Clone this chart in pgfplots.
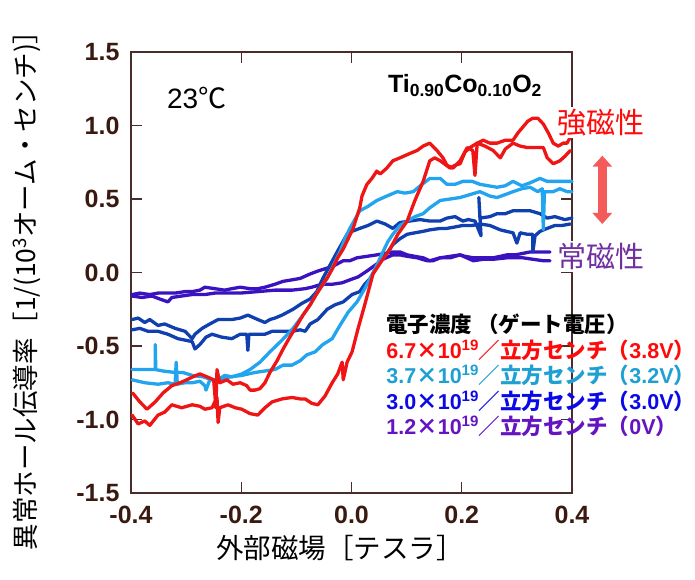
\documentclass[border=0pt]{standalone}
\usepackage{pgfplots}
\pgfplotsset{compat=1.18}
\usepackage{fontspec}
\setmainfont{Liberation Sans}
\newfontfamily\jp{Noto Sans CJK JP}
\usetikzlibrary{arrows.meta}
\definecolor{axcol}{HTML}{4A2C2A}
\definecolor{tkcol}{HTML}{3A1A10}
\definecolor{cred}{HTML}{F01515}
\definecolor{clb}{HTML}{22A5EE}
\definecolor{cdb}{HTML}{1040B0}
\definecolor{cpu}{HTML}{3A12C0}
\definecolor{tred}{HTML}{FF0A0A}
\definecolor{tlb}{HTML}{1EA0D2}
\definecolor{tdb}{HTML}{0A0AE6}
\definecolor{tpu}{HTML}{6414C0}
\definecolor{lpu}{HTML}{7030A0}
\definecolor{arr}{HTML}{F55A5A}
\begin{document}
\begin{tikzpicture}
\path[use as bounding box] (0,0) rectangle (695pt,579pt);
\begin{axis}[
  at={(131pt,86pt)}, anchor=south west,
  width=441pt, height=441pt, scale only axis,
  xmin=-0.4, xmax=0.4, ymin=-1.5, ymax=1.5,
  xtick={-0.4,-0.2,0,0.2,0.4}, xticklabels={-0.4,-0.2,0.0,0.2,0.4},
  ytick={-1.5,-1,-0.5,0,0.5,1,1.5}, yticklabels={-1.5,-1.0,-0.5,0.0,0.5,1.0,1.5},
  tick align=inside, major tick length=11pt,
  axis line style={axcol, line width=1.2pt},
  every tick/.style={axcol, line width=1.2pt},
  ticklabel style={font=\bfseries\fontsize{25}{25}\selectfont, text=tkcol},
  xticklabel style={yshift=-10pt},
  yticklabel style={xshift=-8pt},
  clip=false,
  xlabel={\jp 外部磁場［テスラ］},
  ylabel={\jp 異常ホール伝導率［1/(10\textsuperscript{3}オーム・センチ)］},
  xlabel style={font=\fontsize{27.5}{27.5}\selectfont, at={(axis description cs:0.474,-0.125)}, anchor=center},
  ylabel style={font=\fontsize{26.5}{26.5}\selectfont, at={(axis description cs:-0.236,0.474)}, anchor=center, rotate=0},
  every axis plot/.append style={line width=3.3pt, line join=round, line cap=round},
]
% purple upper (decreasing field)
\addplot[cpu] coordinates {
(0.360,0.14)(0.342,0.14)(0.324,0.14)(0.311,0.13)(0.297,0.12)(0.282,0.12)(0.270,0.11)(0.257,0.10)(0.239,0.10)(0.221,0.10)(0.206,0.11)(0.197,0.12)(0.179,0.11)(0.161,0.10)(0.142,0.08)(0.130,0.10)(0.115,0.11)(0.101,0.12)(0.088,0.14)(0.075,0.14)(0.061,0.13)(0.046,0.12)(0.028,0.11)(0.010,0.10)(-0.003,0.08)(-0.015,0.08)(-0.030,0.05)(-0.044,0.03)(-0.061,0.01)(-0.075,-0.01)(-0.093,-0.04)(-0.108,-0.05)(-0.124,-0.06)(-0.139,-0.08)(-0.157,-0.10)(-0.170,-0.11)(-0.184,-0.11)(-0.202,-0.10)(-0.217,-0.11)(-0.230,-0.12)(-0.248,-0.11)(-0.266,-0.10)(-0.275,-0.12)(-0.289,-0.13)(-0.302,-0.13)(-0.320,-0.14)(-0.333,-0.14)(-0.351,-0.14)(-0.366,-0.15)(-0.384,-0.14)(-0.398,-0.15)
};
% purple lower (increasing field)
\addplot[cpu] coordinates {
(-0.398,-0.16)(-0.380,-0.17)(-0.362,-0.16)(-0.348,-0.18)(-0.333,-0.20)(-0.326,-0.17)(-0.308,-0.16)(-0.289,-0.15)(-0.266,-0.15)(-0.248,-0.14)(-0.230,-0.14)(-0.202,-0.14)(-0.170,-0.13)(-0.139,-0.12)(-0.108,-0.12)(-0.084,-0.11)(-0.072,-0.10)(-0.054,-0.08)(-0.035,-0.08)(-0.017,-0.07)(-0.003,-0.05)(0.012,-0.03)(0.028,0.01)(0.043,0.05)(0.057,0.09)(0.075,0.12)(0.088,0.12)(0.101,0.11)(0.119,0.10)(0.137,0.08)(0.148,0.08)(0.161,0.10)(0.179,0.10)(0.197,0.12)(0.221,0.08)(0.239,0.09)(0.257,0.09)(0.282,0.10)(0.297,0.10)(0.311,0.10)(0.329,0.09)(0.348,0.08)(0.360,0.08)
};
% dark blue upper
\addplot[cdb] coordinates {
(0.400,0.37)(0.387,0.36)(0.369,0.38)(0.355,0.37)(0.342,0.40)(0.324,0.42)(0.306,0.42)(0.293,0.42)(0.279,0.40)(0.264,0.40)(0.251,0.38)(0.233,0.37)(0.231,0.51)(0.235,0.25)(0.224,0.35)(0.212,0.36)(0.202,0.35)(0.188,0.38)(0.173,0.37)(0.161,0.35)(0.142,0.35)(0.124,0.36)(0.106,0.35)(0.088,0.34)(0.075,0.30)(0.061,0.33)(0.046,0.35)(0.030,0.32)(0.015,0.30)(0.001,0.28)(-0.008,0.26)(-0.017,0.20)(-0.026,0.14)(-0.039,0.05)(-0.052,-0.04)(-0.063,-0.13)(-0.075,-0.18)(-0.090,-0.21)(-0.106,-0.25)(-0.126,-0.29)(-0.139,-0.31)(-0.148,-0.32)(-0.157,-0.34)(-0.170,-0.32)(-0.188,-0.29)(-0.202,-0.31)(-0.217,-0.32)(-0.230,-0.32)(-0.242,-0.32)(-0.257,-0.35)(-0.271,-0.38)(-0.284,-0.42)(-0.289,-0.45)(-0.302,-0.40)(-0.320,-0.38)(-0.339,-0.35)(-0.351,-0.36)(-0.366,-0.32)(-0.375,-0.34)(-0.387,-0.31)(-0.398,-0.32)
};
% dark blue lower
\addplot[cdb] coordinates {
(-0.398,-0.39)(-0.384,-0.38)(-0.369,-0.40)(-0.351,-0.40)(-0.333,-0.42)(-0.315,-0.45)(-0.302,-0.46)(-0.289,-0.47)(-0.284,-0.52)(-0.275,-0.49)(-0.264,-0.44)(-0.253,-0.42)(-0.235,-0.44)(-0.217,-0.45)(-0.202,-0.42)(-0.190,-0.42)(-0.188,-0.53)(-0.186,-0.42)(-0.170,-0.42)(-0.157,-0.42)(-0.144,-0.40)(-0.126,-0.40)(-0.108,-0.40)(-0.093,-0.39)(-0.084,-0.40)(-0.075,-0.35)(-0.061,-0.32)(-0.044,-0.25)(-0.030,-0.22)(-0.015,-0.20)(0.001,-0.15)(0.015,-0.13)(0.024,-0.08)(0.034,-0.04)(0.046,0.04)(0.057,0.10)(0.066,0.14)(0.075,0.19)(0.088,0.23)(0.101,0.26)(0.115,0.27)(0.130,0.28)(0.142,0.29)(0.161,0.30)(0.173,0.30)(0.188,0.31)(0.202,0.32)(0.219,0.32)(0.233,0.33)(0.251,0.32)(0.270,0.29)(0.281,0.28)(0.293,0.27)(0.300,0.20)(0.306,0.27)(0.319,0.26)(0.329,0.26)(0.329,0.14)(0.333,0.25)(0.342,0.28)(0.355,0.30)(0.369,0.32)(0.382,0.32)(0.397,0.33)
};
% light blue upper
\addplot[clb] coordinates {
(0.400,0.62)(0.378,0.62)(0.355,0.62)(0.342,0.64)(0.324,0.61)(0.309,0.59)(0.293,0.62)(0.279,0.59)(0.264,0.58)(0.248,0.59)(0.233,0.60)(0.219,0.62)(0.202,0.62)(0.188,0.60)(0.173,0.60)(0.161,0.64)(0.142,0.64)(0.128,0.60)(0.112,0.55)(0.097,0.54)(0.083,0.55)(0.064,0.52)(0.046,0.49)(0.030,0.45)(0.015,0.42)(0.006,0.36)(-0.003,0.30)(-0.012,0.23)(-0.021,0.14)(-0.034,0.04)(-0.044,-0.04)(-0.061,-0.13)(-0.075,-0.22)(-0.090,-0.30)(-0.106,-0.38)(-0.126,-0.46)(-0.148,-0.54)(-0.166,-0.61)(-0.184,-0.66)(-0.199,-0.69)(-0.217,-0.71)(-0.230,-0.70)(-0.242,-0.73)(-0.253,-0.73)(-0.269,-0.71)(-0.289,-0.70)(-0.306,-0.68)(-0.320,-0.68)(-0.342,-0.67)(-0.356,-0.66)(-0.356,-0.49)(-0.355,-0.66)(-0.375,-0.66)(-0.398,-0.66)
};
% light blue lower
\addplot[clb] coordinates {
(-0.398,-0.73)(-0.375,-0.75)(-0.351,-0.76)(-0.333,-0.75)(-0.320,-0.76)(-0.318,-0.61)(-0.316,-0.76)(-0.302,-0.75)(-0.289,-0.75)(-0.275,-0.74)(-0.266,-0.77)(-0.264,-0.80)(-0.257,-0.73)(-0.242,-0.73)(-0.220,-0.71)(-0.199,-0.70)(-0.175,-0.68)(-0.157,-0.67)(-0.139,-0.66)(-0.124,-0.63)(-0.108,-0.63)(-0.093,-0.60)(-0.081,-0.56)(-0.066,-0.54)(-0.052,-0.49)(-0.035,-0.45)(-0.021,-0.36)(-0.006,-0.27)(0.010,-0.20)(0.021,-0.13)(0.034,-0.04)(0.046,0.05)(0.057,0.14)(0.066,0.21)(0.075,0.26)(0.088,0.32)(0.101,0.35)(0.115,0.38)(0.130,0.40)(0.142,0.44)(0.161,0.49)(0.179,0.50)(0.197,0.51)(0.215,0.53)(0.233,0.55)(0.251,0.52)(0.264,0.51)(0.279,0.53)(0.293,0.55)(0.309,0.57)(0.324,0.58)(0.338,0.55)(0.346,0.57)(0.348,0.29)(0.350,0.55)(0.366,0.55)(0.378,0.57)(0.391,0.55)(0.400,0.55)
};
% red lower (increasing field)
\addplot[cred] coordinates {
(-0.398,-0.97)(-0.387,-1.03)(-0.375,-1.01)(-0.366,-1.04)(-0.351,-0.97)(-0.339,-0.95)(-0.326,-0.90)(-0.308,-0.92)(-0.289,-0.90)(-0.275,-0.91)(-0.266,-0.93)(-0.253,-0.92)(-0.244,-0.85)(-0.242,-1.02)(-0.239,-0.92)(-0.224,-0.90)(-0.211,-0.92)(-0.199,-0.93)(-0.184,-0.96)(-0.170,-0.97)(-0.157,-0.92)(-0.144,-0.88)(-0.126,-0.86)(-0.108,-0.85)(-0.093,-0.86)(-0.084,-0.86)(-0.072,-0.89)(-0.061,-0.90)(-0.048,-0.84)(-0.035,-0.75)(-0.025,-0.69)(-0.017,-0.61)(-0.015,-0.73)(-0.008,-0.61)(0.001,-0.54)(0.012,-0.38)(0.024,-0.22)(0.039,-0.01)(0.055,0.08)(0.070,0.16)(0.084,0.26)(0.101,0.35)(0.115,0.49)(0.130,0.62)(0.142,0.76)(0.151,0.78)(0.161,0.76)(0.179,0.71)(0.188,0.73)(0.197,0.74)(0.206,0.82)(0.215,0.85)(0.228,0.88)(0.239,0.90)(0.251,0.88)(0.264,0.88)(0.279,0.90)(0.293,0.90)(0.302,0.95)(0.311,0.99)(0.320,1.03)(0.329,1.05)(0.338,1.05)(0.348,1.01)(0.357,0.95)(0.366,0.88)(0.375,0.86)(0.384,0.88)(0.391,0.88)(0.397,0.92)
};
% red upper (decreasing field)
\addplot[cred] coordinates {
(0.397,0.83)(0.387,0.79)(0.378,0.76)(0.366,0.74)(0.355,0.78)(0.348,0.85)(0.333,0.85)(0.319,0.85)(0.306,0.86)(0.293,0.88)(0.279,0.84)(0.270,0.78)(0.257,0.83)(0.242,0.86)(0.228,0.88)(0.224,0.66)(0.220,0.83)(0.210,0.85)(0.197,0.76)(0.184,0.71)(0.173,0.73)(0.166,0.78)(0.155,0.83)(0.142,0.88)(0.130,0.86)(0.119,0.83)(0.106,0.81)(0.088,0.78)(0.075,0.76)(0.064,0.71)(0.052,0.67)(0.046,0.69)(0.037,0.64)(0.028,0.60)(0.019,0.52)(0.015,0.44)(0.008,0.36)(0.003,0.30)(-0.006,0.23)(-0.015,0.16)(-0.025,0.10)(-0.034,0.03)(-0.043,-0.03)(-0.052,-0.08)(-0.064,-0.15)(-0.075,-0.22)(-0.088,-0.29)(-0.099,-0.36)(-0.112,-0.44)(-0.124,-0.52)(-0.135,-0.60)(-0.148,-0.68)(-0.157,-0.75)(-0.166,-0.79)(-0.175,-0.80)(-0.184,-0.80)(-0.190,-0.77)(-0.202,-0.75)(-0.215,-0.76)(-0.226,-0.73)(-0.239,-0.75)(-0.244,-0.66)(-0.246,-0.92)(-0.250,-0.73)(-0.262,-0.71)(-0.275,-0.69)(-0.288,-0.71)(-0.299,-0.73)(-0.311,-0.75)(-0.326,-0.77)(-0.342,-0.82)(-0.356,-0.88)(-0.371,-0.93)(-0.384,-0.88)(-0.397,-0.82)
};
% annotations
\node[anchor=base west, inner sep=0pt, font=\fontsize{28}{28}\selectfont] at (axis cs:-0.335,1.116) {23{\jp ℃}};
\node[anchor=base west, inner sep=0pt, font=\bfseries\fontsize{25}{25}\selectfont] at (axis cs:0.066,1.226) {Ti\textsubscript{0.90}Co\textsubscript{0.10}O\textsubscript{2}};
\node[fill=white, inner sep=2pt, text=tred, font=\jp\fontsize{29}{29}\selectfont] at (axis cs:0.453,1.02) {強磁性};
\node[fill=white, inner sep=2pt, text=lpu, font=\jp\fontsize{29}{29}\selectfont] at (axis cs:0.453,0.11) {常磁性};
\draw[arr, line width=9pt, {Triangle[width=19pt,length=11pt]}-{Triangle[width=19pt,length=11pt]}] (axis cs:0.455,0.795) -- (axis cs:0.455,0.33);
\node[anchor=north west, align=left, inner sep=0pt, font=\bfseries\fontsize{21.5}{25.5}\selectfont] at (axis cs:0.063,-0.28) {%
{\jp 電子濃度 （ゲート電圧）}\\
\textcolor{tred}{6.7{\jp ×}10\textsuperscript{19}{\jp ／立方センチ（}3.8V{\jp ）}}\\
\textcolor{tlb}{3.7{\jp ×}10\textsuperscript{19}{\jp ／立方センチ（}3.2V{\jp ）}}\\
\textcolor{tdb}{3.0{\jp ×}10\textsuperscript{19}{\jp ／立方センチ（}3.0V{\jp ）}}\\
\textcolor{tpu}{1.2{\jp ×}10\textsuperscript{19}{\jp ／立方センチ（}0V{\jp ）}}};
\end{axis}
\end{tikzpicture}
\end{document}
